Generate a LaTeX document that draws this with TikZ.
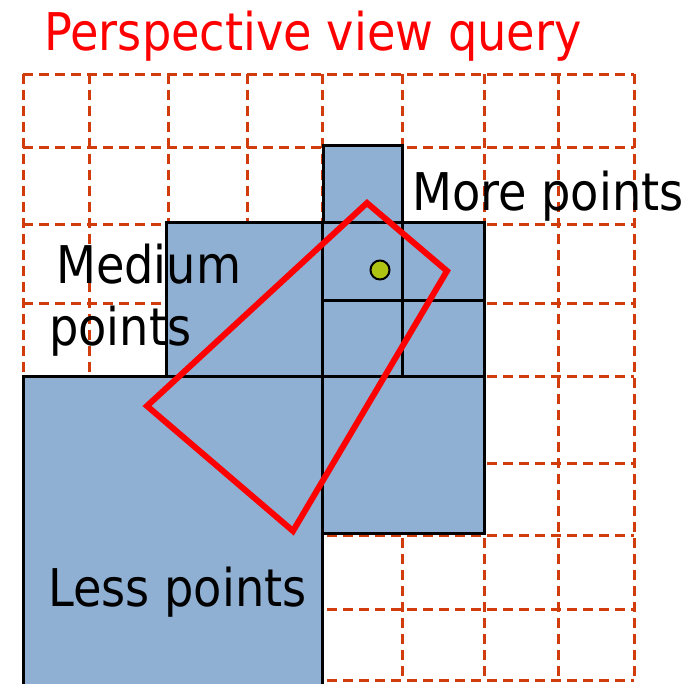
\documentclass[tikz,border=0pt]{standalone}
\usepackage{fontspec}
\newfontfamily\lblfont[FakeStretch=0.89]{DejaVu Sans}
\usepackage{xcolor}
\definecolor{gridorange}{HTML}{D03C0C}
\definecolor{cellblue}{HTML}{8FAFD3}
\definecolor{viewred}{HTML}{FF0000}
\definecolor{pointgreen}{HTML}{AFC412}

\begin{document}
\begin{tikzpicture}[
  x=1pt, y=-1pt,
  gridline/.style={draw=gridorange, line width=3pt, dash pattern=on 10pt off 6pt},
  cell/.style={draw=black, fill=cellblue, line width=3pt},
  frustum/.style={draw=viewred, line width=6pt},
  label/.style={anchor=base west, inner sep=0pt, font=\lblfont\fontsize{52}{60}\selectfont}
]
  \clip (0,0) rectangle (699,683);

  %% Query grid
  \foreach \gx in {23,89,168,247,322,402,484,558,634}
    \draw[gridline] (\gx,74) -- (\gx,680);
  \foreach \gy in {74,147,224,303,376,463,535,609,680}
    \draw[gridline] (23,\gy) -- (634,\gy);

  %% Cells of the octree
  \draw[cell] (23,376) rectangle (322,700);
  \draw[cell] (166,222) rectangle (322,376);
  \draw[cell] (323,145) rectangle (402,222);
  \draw[cell] (322,222) rectangle (402,300);
  \draw[cell] (402,222) rectangle (484,300);
  \draw[cell] (322,300) rectangle (402,376);
  \draw[cell] (402,300) rectangle (484,376);
  \draw[cell] (322,376) rectangle (484,533);

  %% View frustum and viewpoint
  \draw[frustum] (367,203) -- (447,271) -- (293,531) -- (147,406) -- cycle;
  \filldraw[fill=pointgreen, draw=black, line width=2pt] (380,270) circle (9.5);

  %% Labels
  \node[label, text=viewred] (title) at (44,50) {Perspective view query};
  \node[label] (more) at (412,210) {More points};
  \node[label] (medium) at (56,283) {Medium};
  \node[label] (mediumpts) at (49,345) {points};
  \node[label] (less) at (48,606) {Less points};

\end{tikzpicture}
\end{document}
